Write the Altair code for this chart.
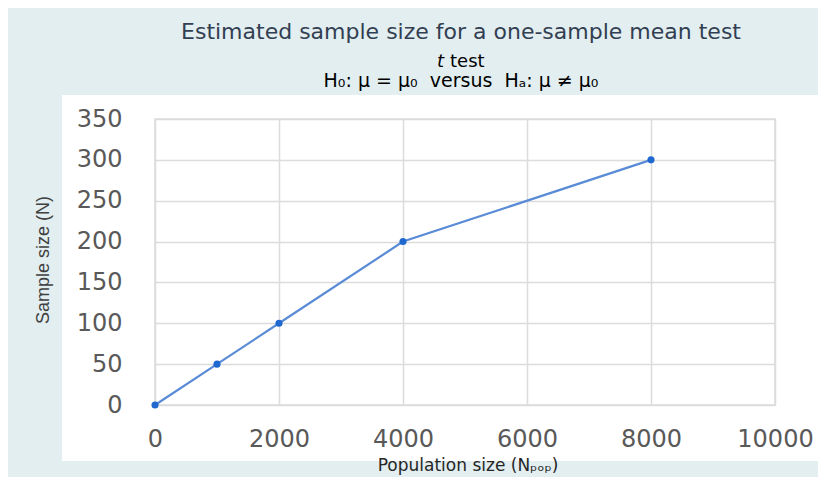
import altair as alt
import pandas as pd

# ---- data ----
pop_size = [0, 1000, 2000, 4000, 8000]
sample_size = [0, 50, 100, 200, 300]
x_ticks = [0, 2000, 4000, 6000, 8000, 10000]
y_ticks = [0, 50, 100, 150, 200, 250, 300, 350]

title_main = "Estimated sample size for a one-sample mean test"
title_t = "t"
title_test = "test"
hypothesis = "H₀: μ = μ₀\u00a0\u00a0versus\u00a0\u00a0Hₐ: μ ≠ μ₀"
x_title = "Population size (Nₚₒₚ)"
y_title = "Sample size (N)"

df = pd.DataFrame({"pop": pop_size, "n": sample_size})

BLUE_BG = "#e2eef0"
FONT = "DejaVu Sans"

one = alt.Data(values=[{"k": 0}])


def band(x1, x2, y1, y2):
    return alt.Chart(one).mark_rect(color=BLUE_BG).encode(
        x=alt.value(x1), x2=alt.value(x2), y=alt.value(y1), y2=alt.value(y2)
    )


def label(text, x, y, size, color="#000000", align="center", angle=0,
          style="normal", font=FONT, baseline="alphabetic"):
    return alt.Chart(one).mark_text(
        text=text, font=font, fontSize=size, color=color, align=align,
        baseline=baseline, angle=angle, fontStyle=style
    ).encode(x=alt.value(x), y=alt.value(y))


x_enc = alt.X(
    "pop:Q",
    scale=alt.Scale(domain=[0, 10000], nice=False),
    axis=alt.Axis(values=x_ticks, format="d", title=None, ticks=False,
                  domain=False, labelFont=FONT, labelFontSize=24,
                  labelColor="#595959", labelPadding=22, labelFlush=False,
                  labelOverlap=False,
                  gridColor="#dcdcdc", gridWidth=1.5),
)
y_enc = alt.Y(
    "n:Q",
    scale=alt.Scale(domain=[0, 350], nice=False),
    axis=alt.Axis(values=y_ticks, format="d", title=None, ticks=False,
                  domain=False, labelFont=FONT, labelFontSize=24,
                  labelColor="#595959", labelPadding=33, labelFlush=False,
                  labelOverlap=False,
                  gridColor="#dcdcdc", gridWidth=1.5),
)

line = alt.Chart(df).mark_line(color="#5a8bd6", strokeWidth=2.2).encode(x=x_enc, y=y_enc)
pts = alt.Chart(df).mark_point(filled=True, color="#1f68cf", size=50, opacity=1).encode(
    x="pop:Q", y="n:Q"
)

chart = alt.layer(
    band(-147, 663, -111, -24),   # top strip (title area)
    band(-147, -93, -111, 358),   # left strip
    band(-147, 663, 342, 358),    # bottom strip
    line,
    pts,
    label(title_main, 306, -80, 22, color="#323e52"),
    label(title_t, 282, -52, 18, align="left", style="italic"),
    label(title_test, 295, -52, 18, align="left"),
    label(hypothesis, 306, -32, 19),
    label(x_title, 313, 352, 17, color="#262626"),
    label(y_title, -111, 141, 18, color="#404040", angle=270,
          font="Liberation Sans", baseline="middle"),
).properties(
    width=620,
    height=286,
    autosize="none",
    padding={"left": 147, "top": 111, "right": 43, "bottom": 72},
    background="#ffffff",
).configure_view(stroke="#dcdcdc", strokeWidth=1.5)

chart.save("out.html", embed_options={"renderer": "svg", "actions": False})
